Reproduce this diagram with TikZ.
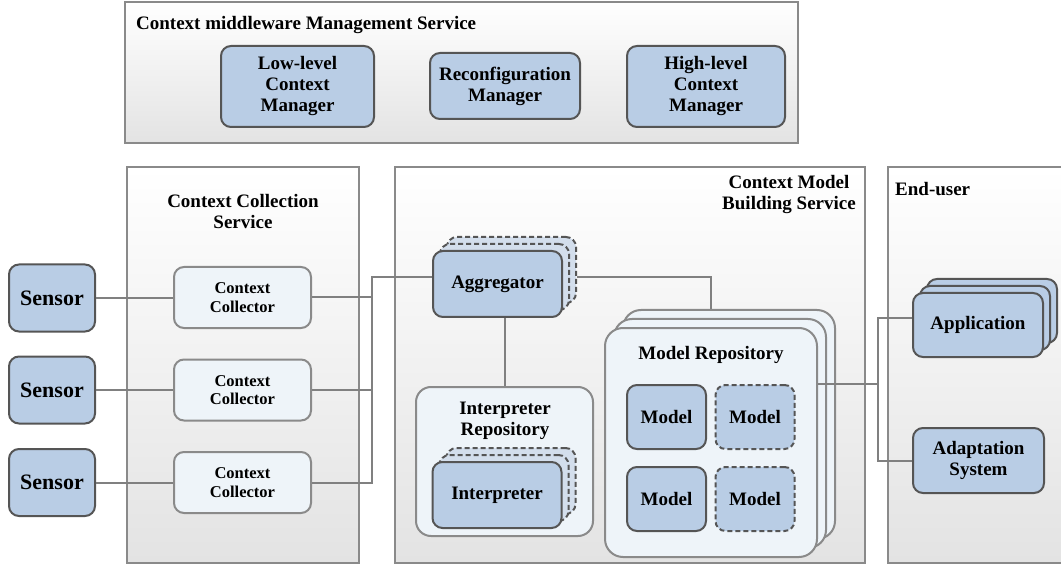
\documentclass[tikz,border=0pt]{standalone}
\usepackage{fontspec}
\setmainfont{Liberation Serif}
\definecolor{nblue}{HTML}{B9CDE5}
\definecolor{nlight}{HTML}{EEF4F9}
\definecolor{nghost}{HTML}{D3DEEC}
\definecolor{nborder}{HTML}{555555}
\definecolor{cborder}{HTML}{8A8A8A}
\definecolor{wirec}{HTML}{808080}
\definecolor{cbottom}{HTML}{E3E3E3}
\begin{document}
\begin{tikzpicture}[x=1pt,y=-1pt,
  every node/.style={inner sep=0pt,align=center},
  cont/.style={draw=cborder,line width=2pt,top color=white,bottom color=cbottom},
  ttl/.style={font=\bfseries\fontsize{19}{21}\selectfont},
  bnode/.style={draw=nborder,line width=2pt,fill=nblue,rounded corners=10pt,font=\bfseries\fontsize{19}{21}\selectfont},
  ghost/.style={bnode,fill=nghost,dash pattern=on 5pt off 3pt},
  lnode/.style={draw=cborder,line width=2pt,fill=nlight,rounded corners=10pt},
  wire/.style={draw=wirec,line width=2pt},
]
\useasboundingbox (0,0) rectangle (1061,564);
% containers
\node[cont,minimum width=673,minimum height=141] (mgmt) at (461.5,72.5) {};
\node[cont,minimum width=232,minimum height=396] (ccs) at (243,365) {};
\node[cont,minimum width=470,minimum height=396] (cmb) at (630,365) {};
\node[cont,minimum width=176,minimum height=396] (eu) at (976,365) {};
% titles
\node[ttl,anchor=base west] (mgmtT) at (136,30) {Context middleware Management Service};
\node[ttl] (ccsT) at (243,212) {Context Collection\\Service};
\node[ttl] (cmbT) at (789,195) {Context Model\\Building Service};
\node[ttl,anchor=west] (euT) at (895,189) {End-user};
% management nodes
\node[bnode,minimum width=153,minimum height=81] (llcm) at (297.5,86.5) {Low-level\\Context\\Manager};
\node[bnode,minimum width=150,minimum height=66] (rm) at (505,86) {Reconfiguration\\Manager};
\node[bnode,minimum width=158,minimum height=81] (hlcm) at (706,86.5) {High-level\\Context\\Manager};
% sensors
\tikzset{sensor/.style={bnode,font=\bfseries\fontsize{22}{24}\selectfont,minimum width=86,minimum height=67}}
\node[sensor] (s1) at (52,298) {Sensor};
\node[sensor] (s2) at (52,390) {Sensor};
\node[sensor] (s3) at (52,482.5) {Sensor};
% collectors
\tikzset{coll/.style={lnode,font=\bfseries\fontsize{16.5}{18.5}\selectfont,minimum width=137,minimum height=61}}
\node[coll] (cc1) at (242.5,297.5) {Context\\Collector};
\node[coll] (cc2) at (242.5,390) {Context\\Collector};
\node[coll] (cc3) at (242.5,482.5) {Context\\Collector};
% aggregator
\tikzset{aggs/.style={minimum width=129,minimum height=66}}
\node[ghost,aggs] (agg3) at (511.5,270) {};
\node[ghost,aggs] (agg2) at (504.5,277) {};
\node[bnode,aggs] (agg) at (497.5,284) {Aggregator};
% interpreter repository
\node[lnode,rounded corners=15pt,minimum width=177,minimum height=149] (ir) at (504.5,461.5) {};
\node[ttl] (irT) at (505,420.5) {Interpreter\\Repository};
\node[ghost,aggs] (int3) at (511,481) {};
\node[ghost,aggs] (int2) at (504,488) {};
\node[bnode,aggs] (int) at (497,495) {Interpreter};
% model repository
\tikzset{mrs/.style={lnode,rounded corners=18pt,minimum width=212,minimum height=229}}
\node[mrs] (mr3) at (729,424.5) {};
\node[mrs] (mr2) at (720,433.5) {};
\node[mrs] (mr) at (711,442.5) {};
\node[ttl] (mrT) at (711,355) {Model Repository};
\tikzset{mods/.style={minimum width=79,minimum height=64}}
\node[bnode,mods] (m1) at (666.5,417) {Model};
\node[ghost,mods,fill=nblue] (m2) at (755,417) {Model};
\node[bnode,mods] (m3) at (666.5,499) {Model};
\node[ghost,mods,fill=nblue] (m4) at (755,499) {Model};
% end-user nodes
\tikzset{apps/.style={minimum width=130,minimum height=64}}
\node[bnode,apps] (app3) at (992,311) {};
\node[bnode,apps] (app2) at (985,318) {};
\node[bnode,apps] (app) at (978,325) {Application};
\node[bnode,minimum width=131,minimum height=65] (ad) at (978.5,460.5) {Adaptation\\System};
% wires
\coordinate (j1) at (372,277);
\draw[wire] (s1.east) -- (s1.east -| cc1.west);
\draw[wire] (s2.east) -- (s2.east -| cc2.west);
\draw[wire] (s3.east) -- (s3.east -| cc3.west);
\draw[wire] (cc1.east) -- (cc1.east -| j1);
\draw[wire] (cc2.east) -- (cc2.east -| j1);
\draw[wire] (cc3.east) -| (j1) -- (j1 -| agg.west);
\draw[wire] (agg3.east |- j1) -| (mr.north |- mr3.north);
\draw[wire] (agg.south -| ir.north) -- (ir.north);
\coordinate (j2) at (878,384);
\coordinate (j3) at (878,318);
\draw[wire] (mr.east |- j2) -- (j2);
\draw[wire] (app.west |- j3) -- (j3) -- (j3 |- ad.west) -- (ad.west);
\end{tikzpicture}
\end{document}
